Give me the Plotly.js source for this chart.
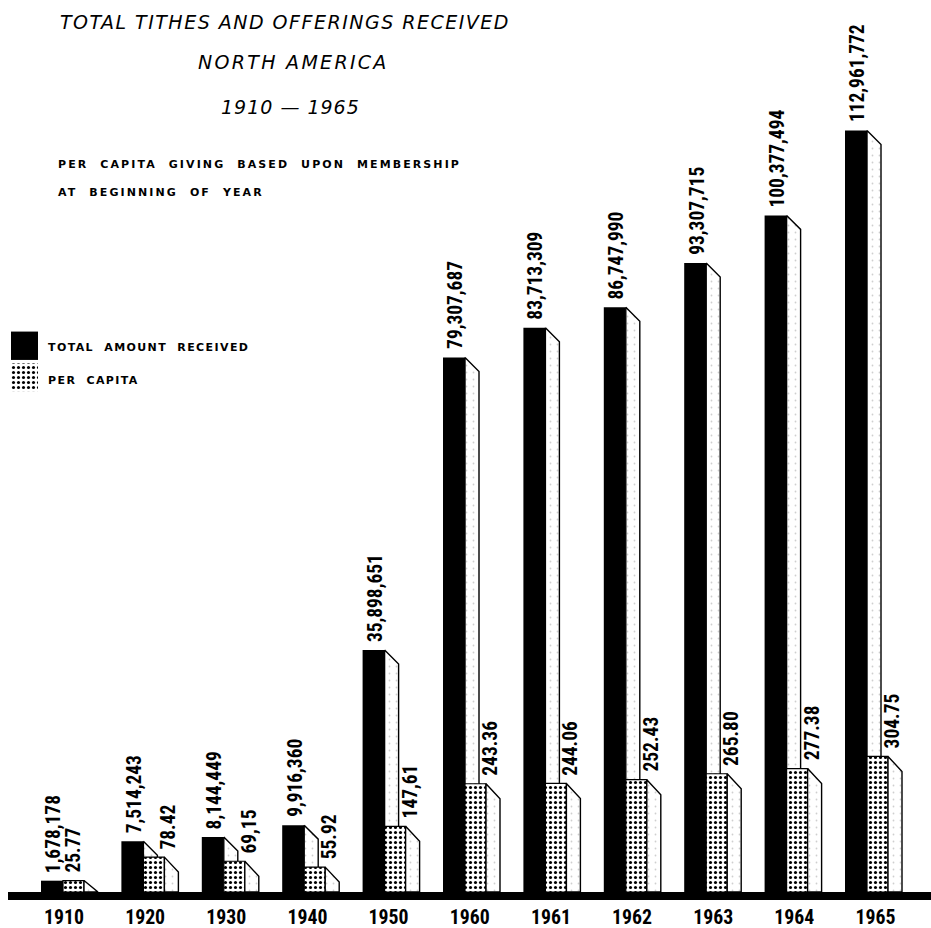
<!DOCTYPE html>
<html><head><meta charset="utf-8">
<script src="https://cdn.plot.ly/plotly-3.0.1.min.js"></script>
<style>html,body{margin:0;padding:0;background:#fff}</style>
</head><body>
<div id="chart" style="width:931px;height:928px"></div>
<script>
// ---------------- DATA ----------------
const years = ['1910','1920','1930','1940','1950','1960','1961','1962','1963','1964','1965'];
const totalReceived = [1678178, 7514243, 8144449, 9916360, 35898651, 79307687, 83713309, 86747990, 93307715, 100377494, 112961772];
const perCapita = [25.77, 78.42, 69.15, 55.92, 147.61, 243.36, 244.06, 252.43, 265.80, 277.38, 304.75];
const perCapitaLabels = ['25.77','78.42','69,15','55.92','147,61','243.36','244.06','252.43','265.80','277.38','304.75'];
const legendLabels = ['TOTAL AMOUNT RECEIVED','PER CAPITA'];
const titleLines = ['TOTAL TITHES AND OFFERINGS RECEIVED','NORTH AMERICA','1910 \u2014 1965'];
const noteLines = ['PER CAPITA GIVING BASED UPON MEMBERSHIP','AT BEGINNING OF YEAR'];

// ---------------- LAYOUT GEOMETRY ----------------
const W = 931, H = 928;
const M = {l: 8, r: 0, t: 40, b: 36};
const plotW = W - M.l - M.r, plotH = H - M.t - M.b;
const xRange = [-0.684, 10.796];
const pxX = plotW / (xRange[1] - xRange[0]);
const yRange = [0, 126.4e6];
const y2Range = [0, 1915];
const pxY = plotH / yRange[1], pxY2 = plotH / y2Range[1];
const dx = p => p / pxX;
const idx = years.map((_, i) => i);
const fx = px => (px - M.l) / plotW;
const fy = py => (H - M.b - py) / plotH;

const FRONT_T = 22, SIDE_T = 14, FRONT_P = 21, SIDE_P = 14, SLANT = 14;
const LETTER = '"DejaVu Sans", sans-serif';

// ---- choose a narrow bold face if one is installed, size it to the reference text widths ----
const cv = document.createElement('canvas').getContext('2d');
function meas(font, txt, stretch) {
  cv.font = font;
  if ('fontStretch' in cv) cv.fontStretch = stretch || 'normal';
  return cv.measureText(txt).width;
}
function pickNarrow() {
  const probe = '1960,112,961,772';
  const base = meas('bold 22px monospace', probe);
  for (const f of ['Liberation Sans Narrow', 'Arial Narrow', 'Roboto Condensed', 'Noto Sans Condensed', 'Open Sans Condensed', 'DejaVu Sans Condensed']) {
    if (Math.abs(meas('bold 22px "' + f + '", monospace', probe) - base) > 0.5) return {family: f, stretch: null};
  }
  for (const f of ['Noto Sans', 'Open Sans', 'Roboto']) {
    const n = meas('bold 22px "' + f + '", monospace', probe, 'normal');
    const c = meas('bold 22px "' + f + '", monospace', probe, 'condensed');
    if (Math.abs(n - meas('bold 22px monospace', probe)) > 0.5 && c < n - 2) return {family: f, stretch: 'condensed'};
  }
  return {family: 'Liberation Sans', stretch: null};
}
const NF = pickNarrow();
const nfCss = '"' + NF.family + '", "Liberation Sans", sans-serif';
const nfWidth = t => meas('bold 22px "' + NF.family + '", sans-serif', t, NF.stretch);
const valueSize = Math.min(22, 22 * 88 / nfWidth('79,307,687'));
const tickSize = Math.min(22, 22 * 40 / nfWidth('1960'));
const nt = t => NF.stretch ? '<span style="font-stretch:' + NF.stretch + '">' + t + '</span>' : t;

function sideFaces(vals, x0px, x1px, slantData) {
  const xs = [], ys = [];
  vals.forEach((v, i) => {
    const a = i + dx(x0px), b = i + dx(x1px);
    const low = Math.max(0, v - slantData);
    xs.push(a, b, b, a, a, null);
    ys.push(v, low, 0, 0, v, null);
  });
  return {xs, ys};
}
const sideT = sideFaces(totalReceived, 0, SIDE_T, SLANT / pxY);
const sideP = sideFaces(perCapita, FRONT_P, FRONT_P + SIDE_P, (SLANT + 1) / pxY2);

const dotPattern = {shape: '.', fgcolor: '#000', bgcolor: '#fff', size: 5, solidity: 0.3};
const speckle = {shape: '.', fgcolor: '#cfcfcf', bgcolor: '#fff', size: 7, solidity: 0.05};

const traces = [
  {type: 'bar', x: idx, y: totalReceived, width: dx(FRONT_T), offset: -dx(FRONT_T),
   marker: {color: '#000', line: {width: 0}}, xaxis: 'x', yaxis: 'y', hoverinfo: 'skip', showlegend: false},
  {type: 'scatter', mode: 'lines', x: sideT.xs, y: sideT.ys, fill: 'toself', fillcolor: '#fff',
   fillpattern: speckle, line: {color: '#000', width: 1.4}, xaxis: 'x', yaxis: 'y', hoverinfo: 'skip', showlegend: false},
  {type: 'bar', x: idx, y: perCapita, width: dx(FRONT_P), offset: 0,
   marker: {color: '#fff', pattern: dotPattern, line: {color: '#000', width: 1.2}},
   xaxis: 'x', yaxis: 'y2', hoverinfo: 'skip', showlegend: false},
  {type: 'scatter', mode: 'lines', x: sideP.xs, y: sideP.ys, fill: 'toself', fillcolor: '#fff',
   fillpattern: speckle, line: {color: '#000', width: 1.4}, xaxis: 'x', yaxis: 'y2', hoverinfo: 'skip', showlegend: false},
  // legend swatches
  {type: 'bar', orientation: 'h', y: [0], x: [1], width: 0.9, name: legendLabels[0],
   marker: {color: '#000', line: {width: 0}}, xaxis: 'x3', yaxis: 'y3', hoverinfo: 'skip', showlegend: false},
  {type: 'bar', orientation: 'h', y: [1], x: [1], width: 0.88, name: legendLabels[1],
   marker: {color: '#fff', pattern: dotPattern, line: {width: 0}}, xaxis: 'x3', yaxis: 'y3', hoverinfo: 'skip', showlegend: false}
];

const spaced = (t, ls, ws) => '<span style="letter-spacing:' + ls + 'px;word-spacing:' + (ws || 0) + 'px">' + t + '</span>';
const labelFont = {family: nfCss, size: valueSize, weight: 'bold', color: '#000'};
const smallFont = {family: LETTER, size: 11, weight: 'bold', color: '#000'};
const titleFont = {family: LETTER, size: 19, style: 'italic', color: '#000'};

const annotations = [];
totalReceived.forEach((v, i) => {
  annotations.push({x: i, y: v, xref: 'x', yref: 'y', text: nt(v.toLocaleString('en-US')),
    textangle: -90, xanchor: 'right', yanchor: 'bottom', xshift: 4, yshift: 6, showarrow: false, font: labelFont});
});
perCapita.forEach((v, i) => {
  const off = i === 0 ? 20 : 35;
  annotations.push({x: i + dx(off), y: v, xref: 'x', yref: 'y2', text: nt(perCapitaLabels[i]),
    textangle: -90, xanchor: 'right', yanchor: 'bottom', xshift: 4, yshift: 6, showarrow: false, font: labelFont});
});
annotations.push({xref: 'paper', yref: 'paper', x: fx(293), y: fy(62), text: spaced(titleLines[1], 2.3),
  xanchor: 'center', yanchor: 'middle', showarrow: false, font: titleFont});
annotations.push({xref: 'paper', yref: 'paper', x: fx(290), y: fy(107), text: spaced(titleLines[2], 1),
  xanchor: 'center', yanchor: 'middle', showarrow: false, font: titleFont});
annotations.push({xref: 'paper', yref: 'paper', x: fx(56), y: fy(164), text: spaced(noteLines[0], 2.1, 6),
  xanchor: 'left', yanchor: 'middle', showarrow: false, font: smallFont});
annotations.push({xref: 'paper', yref: 'paper', x: fx(56), y: fy(192), text: spaced(noteLines[1], 2.1, 6),
  xanchor: 'left', yanchor: 'middle', showarrow: false, font: smallFont});
annotations.push({xref: 'paper', yref: 'paper', x: fx(46), y: fy(347), text: spaced(legendLabels[0], 1.4, 5),
  xanchor: 'left', yanchor: 'middle', showarrow: false, font: smallFont});
annotations.push({xref: 'paper', yref: 'paper', x: fx(46), y: fy(380), text: spaced(legendLabels[1], 1.4, 5),
  xanchor: 'left', yanchor: 'middle', showarrow: false, font: smallFont});

const layout = {
  width: W, height: H, margin: M, paper_bgcolor: '#fff', plot_bgcolor: 'rgba(0,0,0,0)',
  barmode: 'overlay', showlegend: false,
  title: {text: spaced(titleLines[0], 1.5), font: titleFont, x: 285 / W, xanchor: 'center',
          y: 1 - 22 / H, yanchor: 'middle', xref: 'container', yref: 'container'},
  xaxis: {range: xRange, tickmode: 'array', tickvals: idx.map(i => i + dx(1 + 0.75 * i)), ticktext: years.map(nt),
          showline: true, linewidth: 8, linecolor: '#000', ticks: '', showgrid: false, zeroline: false,
          tickfont: {family: nfCss, size: tickSize, weight: 'bold', color: '#000'}, fixedrange: true},
  yaxis: {range: yRange, visible: false, fixedrange: true},
  yaxis2: {range: y2Range, overlaying: 'y', visible: false, fixedrange: true},
  xaxis3: {domain: [fx(11), fx(38)], range: [0, 1], visible: false, anchor: 'y3', fixedrange: true},
  yaxis3: {domain: [fy(393), fy(330)], range: [1.5, -0.5], visible: false, anchor: 'x3', fixedrange: true},
  annotations: annotations
};

Plotly.newPlot('chart', traces, layout, {displayModeBar: false, staticPlot: true});
</script>
</body></html>
